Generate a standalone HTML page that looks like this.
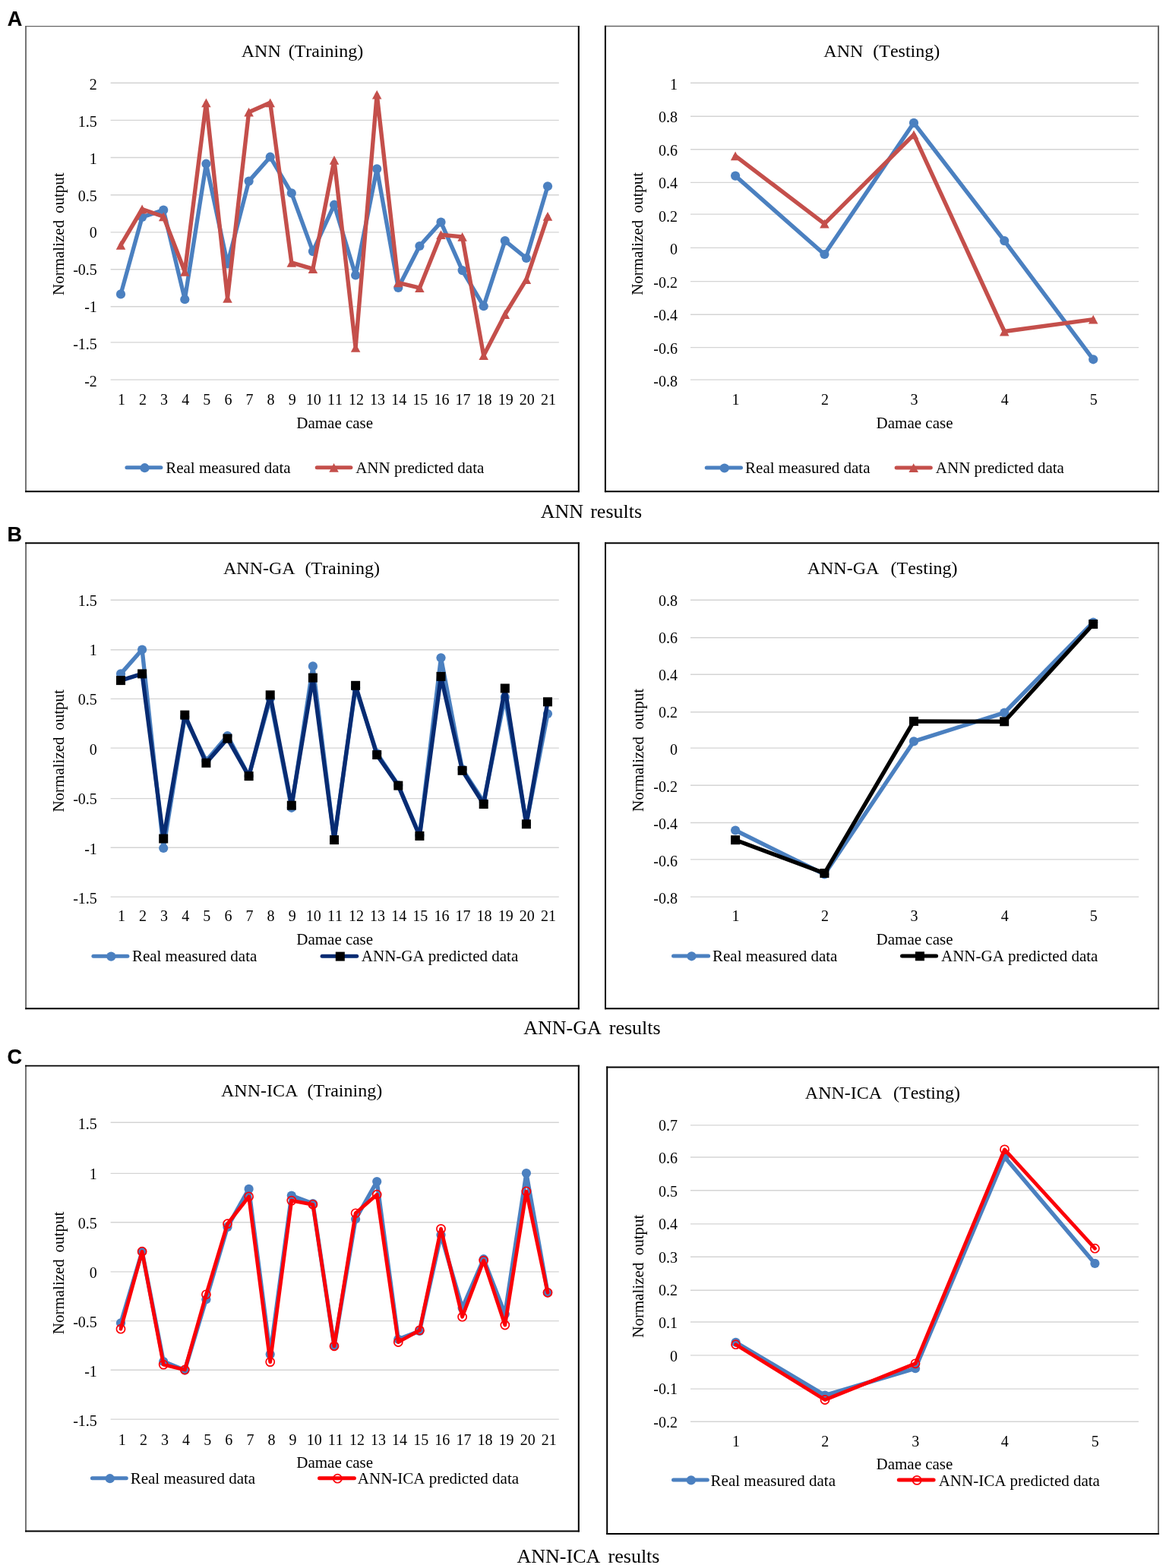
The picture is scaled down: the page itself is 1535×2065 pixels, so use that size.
<!DOCTYPE html>
<html lang="en">
<head>
<meta charset="utf-8">
<title>ANN, ANN-GA and ANN-ICA results</title>
<style>
html,body{margin:0;padding:0;background:#fff}
body{width:1535px;height:2065px;overflow:hidden}
svg{display:block}
text{font-kerning:none}
</style>
</head>
<body>
<svg width="1535" height="2065" viewBox="0 0 1535 2065" font-family='"Liberation Serif", serif'>
<rect width="1535" height="2065" fill="#fff"/>
<line x1="33.10" y1="34.60" x2="762.80" y2="34.60" stroke="#666" stroke-width="1.3"/>
<line x1="34.00" y1="33.95" x2="34.00" y2="648.20" stroke="#666" stroke-width="1.8"/>
<line x1="761.80" y1="33.95" x2="761.80" y2="648.20" stroke="#000" stroke-width="2.0"/>
<line x1="33.10" y1="647.20" x2="762.80" y2="647.20" stroke="#000" stroke-width="2.0"/>
<text x="398.00" y="74.60" font-size="24" text-anchor="middle" font-weight="normal" fill="#000" word-spacing="3.92">ANN (Training)</text>
<line x1="145.6" y1="109.20" x2="735.8" y2="109.20" stroke="#d4d4d4" stroke-width="1.4"/>
<line x1="145.6" y1="158.40" x2="735.8" y2="158.40" stroke="#d4d4d4" stroke-width="1.4"/>
<line x1="145.6" y1="207.50" x2="735.8" y2="207.50" stroke="#d4d4d4" stroke-width="1.4"/>
<line x1="145.6" y1="256.70" x2="735.8" y2="256.70" stroke="#d4d4d4" stroke-width="1.4"/>
<line x1="145.6" y1="305.90" x2="735.8" y2="305.90" stroke="#d4d4d4" stroke-width="1.4"/>
<line x1="145.6" y1="354.70" x2="735.8" y2="354.70" stroke="#d4d4d4" stroke-width="1.4"/>
<line x1="145.6" y1="403.70" x2="735.8" y2="403.70" stroke="#d4d4d4" stroke-width="1.4"/>
<line x1="145.6" y1="450.90" x2="735.8" y2="450.90" stroke="#d4d4d4" stroke-width="1.4"/>
<line x1="145.6" y1="500.10" x2="735.8" y2="500.10" stroke="#d4d4d4" stroke-width="1.4"/>
<text x="127.80" y="118.00" font-size="20" text-anchor="end" font-weight="normal" fill="#000" >2</text>
<text x="127.80" y="166.86" font-size="20" text-anchor="end" font-weight="normal" fill="#000" >1.5</text>
<text x="127.80" y="215.72" font-size="20" text-anchor="end" font-weight="normal" fill="#000" >1</text>
<text x="127.80" y="264.58" font-size="20" text-anchor="end" font-weight="normal" fill="#000" >0.5</text>
<text x="127.80" y="313.44" font-size="20" text-anchor="end" font-weight="normal" fill="#000" >0</text>
<text x="127.80" y="362.30" font-size="20" text-anchor="end" font-weight="normal" fill="#000" >-0.5</text>
<text x="127.80" y="411.16" font-size="20" text-anchor="end" font-weight="normal" fill="#000" >-1</text>
<text x="127.80" y="460.02" font-size="20" text-anchor="end" font-weight="normal" fill="#000" >-1.5</text>
<text x="127.80" y="508.88" font-size="20" text-anchor="end" font-weight="normal" fill="#000" >-2</text>
<text x="159.90" y="533.40" font-size="20" text-anchor="middle" font-weight="normal" fill="#000" >1</text>
<text x="188.00" y="533.40" font-size="20" text-anchor="middle" font-weight="normal" fill="#000" >2</text>
<text x="216.10" y="533.40" font-size="20" text-anchor="middle" font-weight="normal" fill="#000" >3</text>
<text x="244.20" y="533.40" font-size="20" text-anchor="middle" font-weight="normal" fill="#000" >4</text>
<text x="272.30" y="533.40" font-size="20" text-anchor="middle" font-weight="normal" fill="#000" >5</text>
<text x="300.40" y="533.40" font-size="20" text-anchor="middle" font-weight="normal" fill="#000" >6</text>
<text x="328.50" y="533.40" font-size="20" text-anchor="middle" font-weight="normal" fill="#000" >7</text>
<text x="356.60" y="533.40" font-size="20" text-anchor="middle" font-weight="normal" fill="#000" >8</text>
<text x="384.70" y="533.40" font-size="20" text-anchor="middle" font-weight="normal" fill="#000" >9</text>
<text x="412.80" y="533.40" font-size="20" text-anchor="middle" font-weight="normal" fill="#000" >10</text>
<text x="440.90" y="533.40" font-size="20" text-anchor="middle" font-weight="normal" fill="#000" >11</text>
<text x="469.00" y="533.40" font-size="20" text-anchor="middle" font-weight="normal" fill="#000" >12</text>
<text x="497.10" y="533.40" font-size="20" text-anchor="middle" font-weight="normal" fill="#000" >13</text>
<text x="525.20" y="533.40" font-size="20" text-anchor="middle" font-weight="normal" fill="#000" >14</text>
<text x="553.30" y="533.40" font-size="20" text-anchor="middle" font-weight="normal" fill="#000" >15</text>
<text x="581.40" y="533.40" font-size="20" text-anchor="middle" font-weight="normal" fill="#000" >16</text>
<text x="609.50" y="533.40" font-size="20" text-anchor="middle" font-weight="normal" fill="#000" >17</text>
<text x="637.60" y="533.40" font-size="20" text-anchor="middle" font-weight="normal" fill="#000" >18</text>
<text x="665.70" y="533.40" font-size="20" text-anchor="middle" font-weight="normal" fill="#000" >19</text>
<text x="693.80" y="533.40" font-size="20" text-anchor="middle" font-weight="normal" fill="#000" >20</text>
<text x="721.90" y="533.40" font-size="20" text-anchor="middle" font-weight="normal" fill="#000" >21</text>
<text x="440.70" y="563.60" font-size="21" text-anchor="middle" font-weight="normal" fill="#000" >Damae case</text>
<text transform="translate(83.60 308.20) rotate(-90)" font-size="21" text-anchor="middle" word-spacing="3.46">Normalized output</text>
<polyline points="159.00,387.40 187.10,286.00 215.20,276.60 243.30,394.20 271.40,215.70 299.50,347.50 327.60,238.60 355.70,206.70 383.80,254.30 411.90,331.10 440.00,269.70 468.10,362.50 496.20,222.40 524.30,379.00 552.40,324.00 580.50,292.60 608.60,356.10 636.70,403.20 664.80,317.10 692.90,340.00 721.00,245.30" fill="none" stroke="#4b80c0" stroke-width="5.4" stroke-linejoin="round" stroke-linecap="round"/>
<circle cx="159.00" cy="387.40" r="6.10" fill="#4b80c0"/>
<circle cx="187.10" cy="286.00" r="6.10" fill="#4b80c0"/>
<circle cx="215.20" cy="276.60" r="6.10" fill="#4b80c0"/>
<circle cx="243.30" cy="394.20" r="6.10" fill="#4b80c0"/>
<circle cx="271.40" cy="215.70" r="6.10" fill="#4b80c0"/>
<circle cx="299.50" cy="347.50" r="6.10" fill="#4b80c0"/>
<circle cx="327.60" cy="238.60" r="6.10" fill="#4b80c0"/>
<circle cx="355.70" cy="206.70" r="6.10" fill="#4b80c0"/>
<circle cx="383.80" cy="254.30" r="6.10" fill="#4b80c0"/>
<circle cx="411.90" cy="331.10" r="6.10" fill="#4b80c0"/>
<circle cx="440.00" cy="269.70" r="6.10" fill="#4b80c0"/>
<circle cx="468.10" cy="362.50" r="6.10" fill="#4b80c0"/>
<circle cx="496.20" cy="222.40" r="6.10" fill="#4b80c0"/>
<circle cx="524.30" cy="379.00" r="6.10" fill="#4b80c0"/>
<circle cx="552.40" cy="324.00" r="6.10" fill="#4b80c0"/>
<circle cx="580.50" cy="292.60" r="6.10" fill="#4b80c0"/>
<circle cx="608.60" cy="356.10" r="6.10" fill="#4b80c0"/>
<circle cx="636.70" cy="403.20" r="6.10" fill="#4b80c0"/>
<circle cx="664.80" cy="317.10" r="6.10" fill="#4b80c0"/>
<circle cx="692.90" cy="340.00" r="6.10" fill="#4b80c0"/>
<circle cx="721.00" cy="245.30" r="6.10" fill="#4b80c0"/>
<polyline points="159.00,322.90 187.10,275.50 215.20,285.30 243.30,357.80 271.40,135.40 299.50,392.80 327.60,147.70 355.70,135.30 383.80,345.90 411.90,354.20 440.00,210.90 468.10,457.80 496.20,124.60 524.30,372.30 552.40,379.20 580.50,309.20 608.60,311.90 636.70,468.20 664.80,414.00 692.90,368.20 721.00,284.90" fill="none" stroke="#c44f4b" stroke-width="5.4" stroke-linejoin="round" stroke-linecap="round"/>
<path d="M159.00 317.00L165.25 328.80L152.75 328.80Z" fill="#c44f4b"/>
<path d="M187.10 269.60L193.35 281.40L180.85 281.40Z" fill="#c44f4b"/>
<path d="M215.20 279.40L221.45 291.20L208.95 291.20Z" fill="#c44f4b"/>
<path d="M243.30 351.90L249.55 363.70L237.05 363.70Z" fill="#c44f4b"/>
<path d="M271.40 129.50L277.65 141.30L265.15 141.30Z" fill="#c44f4b"/>
<path d="M299.50 386.90L305.75 398.70L293.25 398.70Z" fill="#c44f4b"/>
<path d="M327.60 141.80L333.85 153.60L321.35 153.60Z" fill="#c44f4b"/>
<path d="M355.70 129.40L361.95 141.20L349.45 141.20Z" fill="#c44f4b"/>
<path d="M383.80 340.00L390.05 351.80L377.55 351.80Z" fill="#c44f4b"/>
<path d="M411.90 348.30L418.15 360.10L405.65 360.10Z" fill="#c44f4b"/>
<path d="M440.00 205.00L446.25 216.80L433.75 216.80Z" fill="#c44f4b"/>
<path d="M468.10 451.90L474.35 463.70L461.85 463.70Z" fill="#c44f4b"/>
<path d="M496.20 118.70L502.45 130.50L489.95 130.50Z" fill="#c44f4b"/>
<path d="M524.30 366.40L530.55 378.20L518.05 378.20Z" fill="#c44f4b"/>
<path d="M552.40 373.30L558.65 385.10L546.15 385.10Z" fill="#c44f4b"/>
<path d="M580.50 303.30L586.75 315.10L574.25 315.10Z" fill="#c44f4b"/>
<path d="M608.60 306.00L614.85 317.80L602.35 317.80Z" fill="#c44f4b"/>
<path d="M636.70 462.30L642.95 474.10L630.45 474.10Z" fill="#c44f4b"/>
<path d="M664.80 408.10L671.05 419.90L658.55 419.90Z" fill="#c44f4b"/>
<path d="M692.90 362.30L699.15 374.10L686.65 374.10Z" fill="#c44f4b"/>
<path d="M721.00 279.00L727.25 290.80L714.75 290.80Z" fill="#c44f4b"/>
<line x1="166.90" y1="615.8" x2="211.90" y2="615.8" stroke="#4b80c0" stroke-width="5.0" stroke-linecap="round"/>
<circle cx="190.50" cy="616.20" r="6.10" fill="#4b80c0"/>
<text x="218.20" y="622.80" font-size="21" text-anchor="start" font-weight="normal" fill="#000" >Real measured data</text>
<line x1="417.20" y1="615.8" x2="461.90" y2="615.8" stroke="#c44f4b" stroke-width="5.0" stroke-linecap="round"/>
<path d="M439.55 609.90L445.80 621.70L433.30 621.70Z" fill="#c44f4b"/>
<text x="468.20" y="622.80" font-size="21" text-anchor="start" font-weight="normal" fill="#000" >ANN predicted data</text>
<line x1="795.90" y1="34.50" x2="1526.00" y2="34.50" stroke="#666" stroke-width="1.3"/>
<line x1="1525.00" y1="33.85" x2="1525.00" y2="648.30" stroke="#666" stroke-width="2.0"/>
<line x1="796.90" y1="33.85" x2="796.90" y2="648.30" stroke="#000" stroke-width="2.0"/>
<line x1="795.90" y1="647.30" x2="1526.00" y2="647.30" stroke="#000" stroke-width="2.0"/>
<text x="1160.80" y="74.60" font-size="24" text-anchor="middle" font-weight="normal" fill="#000" word-spacing="6.91">ANN (Testing)</text>
<line x1="909.0" y1="109.20" x2="1499.1" y2="109.20" stroke="#d4d4d4" stroke-width="1.4"/>
<line x1="909.0" y1="153.20" x2="1499.1" y2="153.20" stroke="#d4d4d4" stroke-width="1.4"/>
<line x1="909.0" y1="196.70" x2="1499.1" y2="196.70" stroke="#d4d4d4" stroke-width="1.4"/>
<line x1="909.0" y1="240.40" x2="1499.1" y2="240.40" stroke="#d4d4d4" stroke-width="1.4"/>
<line x1="909.0" y1="282.10" x2="1499.1" y2="282.10" stroke="#d4d4d4" stroke-width="1.4"/>
<line x1="909.0" y1="326.40" x2="1499.1" y2="326.40" stroke="#d4d4d4" stroke-width="1.4"/>
<line x1="909.0" y1="370.60" x2="1499.1" y2="370.60" stroke="#d4d4d4" stroke-width="1.4"/>
<line x1="909.0" y1="414.30" x2="1499.1" y2="414.30" stroke="#d4d4d4" stroke-width="1.4"/>
<line x1="909.0" y1="457.60" x2="1499.1" y2="457.60" stroke="#d4d4d4" stroke-width="1.4"/>
<line x1="909.0" y1="500.10" x2="1499.1" y2="500.10" stroke="#d4d4d4" stroke-width="1.4"/>
<text x="892.00" y="118.00" font-size="20" text-anchor="end" font-weight="normal" fill="#000" >1</text>
<text x="892.00" y="161.48" font-size="20" text-anchor="end" font-weight="normal" fill="#000" >0.8</text>
<text x="892.00" y="204.96" font-size="20" text-anchor="end" font-weight="normal" fill="#000" >0.6</text>
<text x="892.00" y="248.44" font-size="20" text-anchor="end" font-weight="normal" fill="#000" >0.4</text>
<text x="892.00" y="291.92" font-size="20" text-anchor="end" font-weight="normal" fill="#000" >0.2</text>
<text x="892.00" y="335.40" font-size="20" text-anchor="end" font-weight="normal" fill="#000" >0</text>
<text x="892.00" y="378.88" font-size="20" text-anchor="end" font-weight="normal" fill="#000" >-0.2</text>
<text x="892.00" y="422.36" font-size="20" text-anchor="end" font-weight="normal" fill="#000" >-0.4</text>
<text x="892.00" y="465.84" font-size="20" text-anchor="end" font-weight="normal" fill="#000" >-0.6</text>
<text x="892.00" y="509.32" font-size="20" text-anchor="end" font-weight="normal" fill="#000" >-0.8</text>
<text x="968.60" y="533.40" font-size="20" text-anchor="middle" font-weight="normal" fill="#000" >1</text>
<text x="1085.90" y="533.40" font-size="20" text-anchor="middle" font-weight="normal" fill="#000" >2</text>
<text x="1203.50" y="533.40" font-size="20" text-anchor="middle" font-weight="normal" fill="#000" >3</text>
<text x="1322.70" y="533.40" font-size="20" text-anchor="middle" font-weight="normal" fill="#000" >4</text>
<text x="1439.70" y="533.40" font-size="20" text-anchor="middle" font-weight="normal" fill="#000" >5</text>
<text x="1204.05" y="563.60" font-size="21" text-anchor="middle" font-weight="normal" fill="#000" >Damae case</text>
<text transform="translate(846.30 307.80) rotate(-90)" font-size="21" text-anchor="middle" word-spacing="3.96">Normalized output</text>
<polyline points="968.10,231.60 1085.40,335.00 1203.00,161.80 1322.20,317.10 1439.20,473.30" fill="none" stroke="#4b80c0" stroke-width="5.4" stroke-linejoin="round" stroke-linecap="round"/>
<circle cx="968.10" cy="231.60" r="6.10" fill="#4b80c0"/>
<circle cx="1085.40" cy="335.00" r="6.10" fill="#4b80c0"/>
<circle cx="1203.00" cy="161.80" r="6.10" fill="#4b80c0"/>
<circle cx="1322.20" cy="317.10" r="6.10" fill="#4b80c0"/>
<circle cx="1439.20" cy="473.30" r="6.10" fill="#4b80c0"/>
<polyline points="968.10,205.30 1085.40,294.60 1203.00,177.30 1322.20,436.50 1439.20,420.60" fill="none" stroke="#c44f4b" stroke-width="5.4" stroke-linejoin="round" stroke-linecap="round"/>
<path d="M968.10 199.40L974.35 211.20L961.85 211.20Z" fill="#c44f4b"/>
<path d="M1085.40 288.70L1091.65 300.50L1079.15 300.50Z" fill="#c44f4b"/>
<path d="M1203.00 171.40L1209.25 183.20L1196.75 183.20Z" fill="#c44f4b"/>
<path d="M1322.20 430.60L1328.45 442.40L1315.95 442.40Z" fill="#c44f4b"/>
<path d="M1439.20 414.70L1445.45 426.50L1432.95 426.50Z" fill="#c44f4b"/>
<line x1="930.20" y1="616.1" x2="975.50" y2="616.1" stroke="#4b80c0" stroke-width="5.0" stroke-linecap="round"/>
<circle cx="953.75" cy="616.50" r="6.10" fill="#4b80c0"/>
<text x="981.10" y="623.10" font-size="21" text-anchor="start" font-weight="normal" fill="#000" >Real measured data</text>
<line x1="1180.10" y1="616.1" x2="1225.30" y2="616.1" stroke="#c44f4b" stroke-width="5.0" stroke-linecap="round"/>
<path d="M1202.70 610.20L1208.95 622.00L1196.45 622.00Z" fill="#c44f4b"/>
<text x="1231.80" y="623.10" font-size="21" text-anchor="start" font-weight="normal" fill="#000" >ANN predicted data</text>
<line x1="34.10" y1="714.30" x2="34.10" y2="1329.20" stroke="#666" stroke-width="1.8"/>
<line x1="33.20" y1="715.30" x2="762.80" y2="715.30" stroke="#000" stroke-width="2.0"/>
<line x1="761.80" y1="714.30" x2="761.80" y2="1329.20" stroke="#000" stroke-width="2.0"/>
<line x1="33.20" y1="1328.20" x2="762.80" y2="1328.20" stroke="#000" stroke-width="2.0"/>
<text x="397.00" y="756.20" font-size="24" text-anchor="middle" font-weight="normal" fill="#000" word-spacing="6.78">ANN-GA (Training)</text>
<line x1="145.6" y1="790.25" x2="735.8" y2="790.25" stroke="#d4d4d4" stroke-width="1.4"/>
<line x1="145.6" y1="855.70" x2="735.8" y2="855.70" stroke="#d4d4d4" stroke-width="1.4"/>
<line x1="145.6" y1="920.40" x2="735.8" y2="920.40" stroke="#d4d4d4" stroke-width="1.4"/>
<line x1="145.6" y1="985.10" x2="735.8" y2="985.10" stroke="#d4d4d4" stroke-width="1.4"/>
<line x1="145.6" y1="1051.60" x2="735.8" y2="1051.60" stroke="#d4d4d4" stroke-width="1.4"/>
<line x1="145.6" y1="1116.30" x2="735.8" y2="1116.30" stroke="#d4d4d4" stroke-width="1.4"/>
<line x1="145.6" y1="1181.10" x2="735.8" y2="1181.10" stroke="#d4d4d4" stroke-width="1.4"/>
<text x="127.80" y="797.60" font-size="20" text-anchor="end" font-weight="normal" fill="#000" >1.5</text>
<text x="127.80" y="863.00" font-size="20" text-anchor="end" font-weight="normal" fill="#000" >1</text>
<text x="127.80" y="928.40" font-size="20" text-anchor="end" font-weight="normal" fill="#000" >0.5</text>
<text x="127.80" y="993.80" font-size="20" text-anchor="end" font-weight="normal" fill="#000" >0</text>
<text x="127.80" y="1059.20" font-size="20" text-anchor="end" font-weight="normal" fill="#000" >-0.5</text>
<text x="127.80" y="1124.60" font-size="20" text-anchor="end" font-weight="normal" fill="#000" >-1</text>
<text x="127.80" y="1190.00" font-size="20" text-anchor="end" font-weight="normal" fill="#000" >-1.5</text>
<text x="159.90" y="1213.00" font-size="20" text-anchor="middle" font-weight="normal" fill="#000" >1</text>
<text x="188.00" y="1213.00" font-size="20" text-anchor="middle" font-weight="normal" fill="#000" >2</text>
<text x="216.10" y="1213.00" font-size="20" text-anchor="middle" font-weight="normal" fill="#000" >3</text>
<text x="244.20" y="1213.00" font-size="20" text-anchor="middle" font-weight="normal" fill="#000" >4</text>
<text x="272.30" y="1213.00" font-size="20" text-anchor="middle" font-weight="normal" fill="#000" >5</text>
<text x="300.40" y="1213.00" font-size="20" text-anchor="middle" font-weight="normal" fill="#000" >6</text>
<text x="328.50" y="1213.00" font-size="20" text-anchor="middle" font-weight="normal" fill="#000" >7</text>
<text x="356.60" y="1213.00" font-size="20" text-anchor="middle" font-weight="normal" fill="#000" >8</text>
<text x="384.70" y="1213.00" font-size="20" text-anchor="middle" font-weight="normal" fill="#000" >9</text>
<text x="412.80" y="1213.00" font-size="20" text-anchor="middle" font-weight="normal" fill="#000" >10</text>
<text x="440.90" y="1213.00" font-size="20" text-anchor="middle" font-weight="normal" fill="#000" >11</text>
<text x="469.00" y="1213.00" font-size="20" text-anchor="middle" font-weight="normal" fill="#000" >12</text>
<text x="497.10" y="1213.00" font-size="20" text-anchor="middle" font-weight="normal" fill="#000" >13</text>
<text x="525.20" y="1213.00" font-size="20" text-anchor="middle" font-weight="normal" fill="#000" >14</text>
<text x="553.30" y="1213.00" font-size="20" text-anchor="middle" font-weight="normal" fill="#000" >15</text>
<text x="581.40" y="1213.00" font-size="20" text-anchor="middle" font-weight="normal" fill="#000" >16</text>
<text x="609.50" y="1213.00" font-size="20" text-anchor="middle" font-weight="normal" fill="#000" >17</text>
<text x="637.60" y="1213.00" font-size="20" text-anchor="middle" font-weight="normal" fill="#000" >18</text>
<text x="665.70" y="1213.00" font-size="20" text-anchor="middle" font-weight="normal" fill="#000" >19</text>
<text x="693.80" y="1213.00" font-size="20" text-anchor="middle" font-weight="normal" fill="#000" >20</text>
<text x="721.90" y="1213.00" font-size="20" text-anchor="middle" font-weight="normal" fill="#000" >21</text>
<text x="440.70" y="1243.50" font-size="21" text-anchor="middle" font-weight="normal" fill="#000" >Damae case</text>
<text transform="translate(83.50 988.80) rotate(-90)" font-size="21" text-anchor="middle" word-spacing="3.46">Normalized output</text>
<polyline points="159.00,887.40 187.10,855.50 215.20,1117.00 243.30,944.00 271.40,1002.00 299.50,969.00 327.60,1022.00 355.70,920.00 383.80,1063.80 411.90,877.40 440.00,1106.00 468.10,905.50 496.20,992.00 524.30,1034.00 552.40,1100.00 580.50,866.30 608.60,1013.00 636.70,1056.00 664.80,918.00 692.90,1085.00 721.00,940.00" fill="none" stroke="#4b80c0" stroke-width="5.4" stroke-linejoin="round" stroke-linecap="round"/>
<circle cx="159.00" cy="887.40" r="6.10" fill="#4b80c0"/>
<circle cx="187.10" cy="855.50" r="6.10" fill="#4b80c0"/>
<circle cx="215.20" cy="1117.00" r="6.10" fill="#4b80c0"/>
<circle cx="243.30" cy="944.00" r="6.10" fill="#4b80c0"/>
<circle cx="271.40" cy="1002.00" r="6.10" fill="#4b80c0"/>
<circle cx="299.50" cy="969.00" r="6.10" fill="#4b80c0"/>
<circle cx="327.60" cy="1022.00" r="6.10" fill="#4b80c0"/>
<circle cx="355.70" cy="920.00" r="6.10" fill="#4b80c0"/>
<circle cx="383.80" cy="1063.80" r="6.10" fill="#4b80c0"/>
<circle cx="411.90" cy="877.40" r="6.10" fill="#4b80c0"/>
<circle cx="440.00" cy="1106.00" r="6.10" fill="#4b80c0"/>
<circle cx="468.10" cy="905.50" r="6.10" fill="#4b80c0"/>
<circle cx="496.20" cy="992.00" r="6.10" fill="#4b80c0"/>
<circle cx="524.30" cy="1034.00" r="6.10" fill="#4b80c0"/>
<circle cx="552.40" cy="1100.00" r="6.10" fill="#4b80c0"/>
<circle cx="580.50" cy="866.30" r="6.10" fill="#4b80c0"/>
<circle cx="608.60" cy="1013.00" r="6.10" fill="#4b80c0"/>
<circle cx="636.70" cy="1056.00" r="6.10" fill="#4b80c0"/>
<circle cx="664.80" cy="918.00" r="6.10" fill="#4b80c0"/>
<circle cx="692.90" cy="1085.00" r="6.10" fill="#4b80c0"/>
<circle cx="721.00" cy="940.00" r="6.10" fill="#4b80c0"/>
<polyline points="159.00,896.10 187.10,887.40 215.20,1104.50 243.30,941.60 271.40,1004.80 299.50,972.60 327.60,1022.10 355.70,915.30 383.80,1060.70 411.90,892.60 440.00,1106.10 468.10,902.80 496.20,994.10 524.30,1034.60 552.40,1100.90 580.50,890.90 608.60,1014.80 636.70,1059.00 664.80,906.50 692.90,1085.30 721.00,924.30" fill="none" stroke="#072b72" stroke-width="5.4" stroke-linejoin="round" stroke-linecap="round"/>
<rect x="153.00" y="890.10" width="12.00" height="12.00" fill="#000"/>
<rect x="181.10" y="881.40" width="12.00" height="12.00" fill="#000"/>
<rect x="209.20" y="1098.50" width="12.00" height="12.00" fill="#000"/>
<rect x="237.30" y="935.60" width="12.00" height="12.00" fill="#000"/>
<rect x="265.40" y="998.80" width="12.00" height="12.00" fill="#000"/>
<rect x="293.50" y="966.60" width="12.00" height="12.00" fill="#000"/>
<rect x="321.60" y="1016.10" width="12.00" height="12.00" fill="#000"/>
<rect x="349.70" y="909.30" width="12.00" height="12.00" fill="#000"/>
<rect x="377.80" y="1054.70" width="12.00" height="12.00" fill="#000"/>
<rect x="405.90" y="886.60" width="12.00" height="12.00" fill="#000"/>
<rect x="434.00" y="1100.10" width="12.00" height="12.00" fill="#000"/>
<rect x="462.10" y="896.80" width="12.00" height="12.00" fill="#000"/>
<rect x="490.20" y="988.10" width="12.00" height="12.00" fill="#000"/>
<rect x="518.30" y="1028.60" width="12.00" height="12.00" fill="#000"/>
<rect x="546.40" y="1094.90" width="12.00" height="12.00" fill="#000"/>
<rect x="574.50" y="884.90" width="12.00" height="12.00" fill="#000"/>
<rect x="602.60" y="1008.80" width="12.00" height="12.00" fill="#000"/>
<rect x="630.70" y="1053.00" width="12.00" height="12.00" fill="#000"/>
<rect x="658.80" y="900.50" width="12.00" height="12.00" fill="#000"/>
<rect x="686.90" y="1079.30" width="12.00" height="12.00" fill="#000"/>
<rect x="715.00" y="918.30" width="12.00" height="12.00" fill="#000"/>
<line x1="122.90" y1="1259.2" x2="167.90" y2="1259.2" stroke="#4b80c0" stroke-width="5.0" stroke-linecap="round"/>
<circle cx="146.30" cy="1259.60" r="6.10" fill="#4b80c0"/>
<text x="173.90" y="1266.20" font-size="21" text-anchor="start" font-weight="normal" fill="#000" >Real measured data</text>
<line x1="424.10" y1="1259.2" x2="469.70" y2="1259.2" stroke="#072b72" stroke-width="5.0" stroke-linecap="round"/>
<rect x="441.80" y="1253.60" width="12.00" height="12.00" fill="#000"/>
<text x="475.80" y="1266.20" font-size="21" text-anchor="start" font-weight="normal" fill="#000" >ANN-GA predicted data</text>
<line x1="1525.00" y1="714.30" x2="1525.00" y2="1329.30" stroke="#666" stroke-width="2.0"/>
<line x1="796.00" y1="715.30" x2="1526.00" y2="715.30" stroke="#000" stroke-width="2.0"/>
<line x1="797.00" y1="714.30" x2="797.00" y2="1329.30" stroke="#000" stroke-width="2.0"/>
<line x1="796.00" y1="1328.30" x2="1526.00" y2="1328.30" stroke="#000" stroke-width="2.0"/>
<text x="1161.60" y="756.20" font-size="24" text-anchor="middle" font-weight="normal" fill="#000" word-spacing="9.27">ANN-GA (Testing)</text>
<line x1="909.0" y1="790.25" x2="1499.1" y2="790.25" stroke="#d4d4d4" stroke-width="1.4"/>
<line x1="909.0" y1="839.70" x2="1499.1" y2="839.70" stroke="#d4d4d4" stroke-width="1.4"/>
<line x1="909.0" y1="888.30" x2="1499.1" y2="888.30" stroke="#d4d4d4" stroke-width="1.4"/>
<line x1="909.0" y1="937.70" x2="1499.1" y2="937.70" stroke="#d4d4d4" stroke-width="1.4"/>
<line x1="909.0" y1="985.10" x2="1499.1" y2="985.10" stroke="#d4d4d4" stroke-width="1.4"/>
<line x1="909.0" y1="1034.30" x2="1499.1" y2="1034.30" stroke="#d4d4d4" stroke-width="1.4"/>
<line x1="909.0" y1="1083.50" x2="1499.1" y2="1083.50" stroke="#d4d4d4" stroke-width="1.4"/>
<line x1="909.0" y1="1131.90" x2="1499.1" y2="1131.90" stroke="#d4d4d4" stroke-width="1.4"/>
<line x1="909.0" y1="1181.10" x2="1499.1" y2="1181.10" stroke="#d4d4d4" stroke-width="1.4"/>
<text x="892.00" y="797.60" font-size="20" text-anchor="end" font-weight="normal" fill="#000" >0.8</text>
<text x="892.00" y="846.64" font-size="20" text-anchor="end" font-weight="normal" fill="#000" >0.6</text>
<text x="892.00" y="895.68" font-size="20" text-anchor="end" font-weight="normal" fill="#000" >0.4</text>
<text x="892.00" y="944.72" font-size="20" text-anchor="end" font-weight="normal" fill="#000" >0.2</text>
<text x="892.00" y="993.76" font-size="20" text-anchor="end" font-weight="normal" fill="#000" >0</text>
<text x="892.00" y="1042.80" font-size="20" text-anchor="end" font-weight="normal" fill="#000" >-0.2</text>
<text x="892.00" y="1091.84" font-size="20" text-anchor="end" font-weight="normal" fill="#000" >-0.4</text>
<text x="892.00" y="1140.88" font-size="20" text-anchor="end" font-weight="normal" fill="#000" >-0.6</text>
<text x="892.00" y="1189.92" font-size="20" text-anchor="end" font-weight="normal" fill="#000" >-0.8</text>
<text x="968.60" y="1213.00" font-size="20" text-anchor="middle" font-weight="normal" fill="#000" >1</text>
<text x="1085.90" y="1213.00" font-size="20" text-anchor="middle" font-weight="normal" fill="#000" >2</text>
<text x="1203.50" y="1213.00" font-size="20" text-anchor="middle" font-weight="normal" fill="#000" >3</text>
<text x="1322.70" y="1213.00" font-size="20" text-anchor="middle" font-weight="normal" fill="#000" >4</text>
<text x="1439.70" y="1213.00" font-size="20" text-anchor="middle" font-weight="normal" fill="#000" >5</text>
<text x="1204.05" y="1243.50" font-size="21" text-anchor="middle" font-weight="normal" fill="#000" >Damae case</text>
<text transform="translate(846.60 988.00) rotate(-90)" font-size="21" text-anchor="middle" word-spacing="3.96">Normalized output</text>
<polyline points="968.10,1093.50 1085.40,1151.50 1203.00,976.40 1322.20,938.60 1439.20,819.50" fill="none" stroke="#4b80c0" stroke-width="5.4" stroke-linejoin="round" stroke-linecap="round"/>
<circle cx="968.10" cy="1093.50" r="6.10" fill="#4b80c0"/>
<circle cx="1085.40" cy="1151.50" r="6.10" fill="#4b80c0"/>
<circle cx="1203.00" cy="976.40" r="6.10" fill="#4b80c0"/>
<circle cx="1322.20" cy="938.60" r="6.10" fill="#4b80c0"/>
<circle cx="1439.20" cy="819.50" r="6.10" fill="#4b80c0"/>
<polyline points="968.10,1106.20 1085.40,1150.00 1203.00,949.90 1322.20,950.30 1439.20,822.00" fill="none" stroke="#000" stroke-width="5.4" stroke-linejoin="round" stroke-linecap="round"/>
<rect x="962.10" y="1100.20" width="12.00" height="12.00" fill="#000"/>
<rect x="1079.40" y="1144.00" width="12.00" height="12.00" fill="#000"/>
<rect x="1197.00" y="943.90" width="12.00" height="12.00" fill="#000"/>
<rect x="1316.20" y="944.30" width="12.00" height="12.00" fill="#000"/>
<rect x="1433.20" y="816.00" width="12.00" height="12.00" fill="#000"/>
<line x1="886.50" y1="1258.9" x2="932.60" y2="1258.9" stroke="#4b80c0" stroke-width="5.0" stroke-linecap="round"/>
<circle cx="910.45" cy="1259.30" r="6.10" fill="#4b80c0"/>
<text x="938.00" y="1265.90" font-size="21" text-anchor="start" font-weight="normal" fill="#000" >Real measured data</text>
<line x1="1187.50" y1="1258.9" x2="1232.60" y2="1258.9" stroke="#000" stroke-width="5.0" stroke-linecap="round"/>
<rect x="1204.95" y="1253.30" width="12.00" height="12.00" fill="#000"/>
<text x="1239.00" y="1265.90" font-size="21" text-anchor="start" font-weight="normal" fill="#000" >ANN-GA predicted data</text>
<line x1="34.00" y1="1402.70" x2="34.00" y2="2017.50" stroke="#666" stroke-width="1.8"/>
<line x1="33.10" y1="1403.60" x2="762.80" y2="1403.60" stroke="#000" stroke-width="1.8"/>
<line x1="761.80" y1="1402.70" x2="761.80" y2="2017.50" stroke="#000" stroke-width="2.0"/>
<line x1="33.10" y1="2016.50" x2="762.80" y2="2016.50" stroke="#000" stroke-width="2.0"/>
<text x="397.10" y="1444.30" font-size="24" text-anchor="middle" font-weight="normal" fill="#000" word-spacing="6.22">ANN-ICA (Training)</text>
<line x1="145.6" y1="1478.25" x2="735.8" y2="1478.25" stroke="#d4d4d4" stroke-width="1.4"/>
<line x1="145.6" y1="1545.40" x2="735.8" y2="1545.40" stroke="#d4d4d4" stroke-width="1.4"/>
<line x1="145.6" y1="1609.80" x2="735.8" y2="1609.80" stroke="#d4d4d4" stroke-width="1.4"/>
<line x1="145.6" y1="1674.90" x2="735.8" y2="1674.90" stroke="#d4d4d4" stroke-width="1.4"/>
<line x1="145.6" y1="1739.60" x2="735.8" y2="1739.60" stroke="#d4d4d4" stroke-width="1.4"/>
<line x1="145.6" y1="1804.30" x2="735.8" y2="1804.30" stroke="#d4d4d4" stroke-width="1.4"/>
<line x1="145.6" y1="1869.10" x2="735.8" y2="1869.10" stroke="#d4d4d4" stroke-width="1.4"/>
<text x="127.80" y="1487.40" font-size="20" text-anchor="end" font-weight="normal" fill="#000" >1.5</text>
<text x="127.80" y="1552.50" font-size="20" text-anchor="end" font-weight="normal" fill="#000" >1</text>
<text x="127.80" y="1617.60" font-size="20" text-anchor="end" font-weight="normal" fill="#000" >0.5</text>
<text x="127.80" y="1682.70" font-size="20" text-anchor="end" font-weight="normal" fill="#000" >0</text>
<text x="127.80" y="1747.80" font-size="20" text-anchor="end" font-weight="normal" fill="#000" >-0.5</text>
<text x="127.80" y="1812.90" font-size="20" text-anchor="end" font-weight="normal" fill="#000" >-1</text>
<text x="127.80" y="1878.00" font-size="20" text-anchor="end" font-weight="normal" fill="#000" >-1.5</text>
<text x="160.80" y="1903.20" font-size="20" text-anchor="middle" font-weight="normal" fill="#000" >1</text>
<text x="188.90" y="1903.20" font-size="20" text-anchor="middle" font-weight="normal" fill="#000" >2</text>
<text x="217.00" y="1903.20" font-size="20" text-anchor="middle" font-weight="normal" fill="#000" >3</text>
<text x="245.10" y="1903.20" font-size="20" text-anchor="middle" font-weight="normal" fill="#000" >4</text>
<text x="273.20" y="1903.20" font-size="20" text-anchor="middle" font-weight="normal" fill="#000" >5</text>
<text x="301.30" y="1903.20" font-size="20" text-anchor="middle" font-weight="normal" fill="#000" >6</text>
<text x="329.40" y="1903.20" font-size="20" text-anchor="middle" font-weight="normal" fill="#000" >7</text>
<text x="357.50" y="1903.20" font-size="20" text-anchor="middle" font-weight="normal" fill="#000" >8</text>
<text x="385.60" y="1903.20" font-size="20" text-anchor="middle" font-weight="normal" fill="#000" >9</text>
<text x="413.70" y="1903.20" font-size="20" text-anchor="middle" font-weight="normal" fill="#000" >10</text>
<text x="441.80" y="1903.20" font-size="20" text-anchor="middle" font-weight="normal" fill="#000" >11</text>
<text x="469.90" y="1903.20" font-size="20" text-anchor="middle" font-weight="normal" fill="#000" >12</text>
<text x="498.00" y="1903.20" font-size="20" text-anchor="middle" font-weight="normal" fill="#000" >13</text>
<text x="526.10" y="1903.20" font-size="20" text-anchor="middle" font-weight="normal" fill="#000" >14</text>
<text x="554.20" y="1903.20" font-size="20" text-anchor="middle" font-weight="normal" fill="#000" >15</text>
<text x="582.30" y="1903.20" font-size="20" text-anchor="middle" font-weight="normal" fill="#000" >16</text>
<text x="610.40" y="1903.20" font-size="20" text-anchor="middle" font-weight="normal" fill="#000" >17</text>
<text x="638.50" y="1903.20" font-size="20" text-anchor="middle" font-weight="normal" fill="#000" >18</text>
<text x="666.60" y="1903.20" font-size="20" text-anchor="middle" font-weight="normal" fill="#000" >19</text>
<text x="694.70" y="1903.20" font-size="20" text-anchor="middle" font-weight="normal" fill="#000" >20</text>
<text x="722.80" y="1903.20" font-size="20" text-anchor="middle" font-weight="normal" fill="#000" >21</text>
<text x="440.70" y="1932.70" font-size="21" text-anchor="middle" font-weight="normal" fill="#000" >Damae case</text>
<text transform="translate(83.60 1676.50) rotate(-90)" font-size="21" text-anchor="middle" word-spacing="3.46">Normalized output</text>
<polyline points="159.00,1742.30 187.10,1648.20 215.20,1793.00 243.30,1804.40 271.40,1711.30 299.50,1615.90 327.60,1565.90 355.70,1783.60 383.80,1574.60 411.90,1585.10 440.00,1772.80 468.10,1605.50 496.20,1556.10 524.30,1763.80 552.40,1752.90 580.50,1626.30 608.60,1722.60 636.70,1658.20 664.80,1730.60 692.90,1545.00 721.00,1702.30" fill="none" stroke="#4b80c0" stroke-width="5.4" stroke-linejoin="round" stroke-linecap="round"/>
<circle cx="159.00" cy="1742.30" r="6.10" fill="#4b80c0"/>
<circle cx="187.10" cy="1648.20" r="6.10" fill="#4b80c0"/>
<circle cx="215.20" cy="1793.00" r="6.10" fill="#4b80c0"/>
<circle cx="243.30" cy="1804.40" r="6.10" fill="#4b80c0"/>
<circle cx="271.40" cy="1711.30" r="6.10" fill="#4b80c0"/>
<circle cx="299.50" cy="1615.90" r="6.10" fill="#4b80c0"/>
<circle cx="327.60" cy="1565.90" r="6.10" fill="#4b80c0"/>
<circle cx="355.70" cy="1783.60" r="6.10" fill="#4b80c0"/>
<circle cx="383.80" cy="1574.60" r="6.10" fill="#4b80c0"/>
<circle cx="411.90" cy="1585.10" r="6.10" fill="#4b80c0"/>
<circle cx="440.00" cy="1772.80" r="6.10" fill="#4b80c0"/>
<circle cx="468.10" cy="1605.50" r="6.10" fill="#4b80c0"/>
<circle cx="496.20" cy="1556.10" r="6.10" fill="#4b80c0"/>
<circle cx="524.30" cy="1763.80" r="6.10" fill="#4b80c0"/>
<circle cx="552.40" cy="1752.90" r="6.10" fill="#4b80c0"/>
<circle cx="580.50" cy="1626.30" r="6.10" fill="#4b80c0"/>
<circle cx="608.60" cy="1722.60" r="6.10" fill="#4b80c0"/>
<circle cx="636.70" cy="1658.20" r="6.10" fill="#4b80c0"/>
<circle cx="664.80" cy="1730.60" r="6.10" fill="#4b80c0"/>
<circle cx="692.90" cy="1545.00" r="6.10" fill="#4b80c0"/>
<circle cx="721.00" cy="1702.30" r="6.10" fill="#4b80c0"/>
<polyline points="159.00,1750.20 187.10,1648.20 215.20,1797.10 243.30,1804.00 271.40,1704.80 299.50,1611.70 327.60,1575.90 355.70,1793.60 383.80,1581.10 411.90,1586.30 440.00,1772.80 468.10,1597.80 496.20,1573.20 524.30,1767.50 552.40,1751.90 580.50,1618.40 608.60,1734.20 636.70,1660.10 664.80,1745.00 692.90,1569.00 721.00,1702.30" fill="none" stroke="#fb0007" stroke-width="4.8" stroke-linejoin="round" stroke-linecap="round"/>
<circle cx="159.00" cy="1750.20" r="5.55" fill="none" stroke="#fb0007" stroke-width="1.7"/>
<circle cx="187.10" cy="1648.20" r="5.55" fill="none" stroke="#fb0007" stroke-width="1.7"/>
<circle cx="215.20" cy="1797.10" r="5.55" fill="none" stroke="#fb0007" stroke-width="1.7"/>
<circle cx="243.30" cy="1804.00" r="5.55" fill="none" stroke="#fb0007" stroke-width="1.7"/>
<circle cx="271.40" cy="1704.80" r="5.55" fill="none" stroke="#fb0007" stroke-width="1.7"/>
<circle cx="299.50" cy="1611.70" r="5.55" fill="none" stroke="#fb0007" stroke-width="1.7"/>
<circle cx="327.60" cy="1575.90" r="5.55" fill="none" stroke="#fb0007" stroke-width="1.7"/>
<circle cx="355.70" cy="1793.60" r="5.55" fill="none" stroke="#fb0007" stroke-width="1.7"/>
<circle cx="383.80" cy="1581.10" r="5.55" fill="none" stroke="#fb0007" stroke-width="1.7"/>
<circle cx="411.90" cy="1586.30" r="5.55" fill="none" stroke="#fb0007" stroke-width="1.7"/>
<circle cx="440.00" cy="1772.80" r="5.55" fill="none" stroke="#fb0007" stroke-width="1.7"/>
<circle cx="468.10" cy="1597.80" r="5.55" fill="none" stroke="#fb0007" stroke-width="1.7"/>
<circle cx="496.20" cy="1573.20" r="5.55" fill="none" stroke="#fb0007" stroke-width="1.7"/>
<circle cx="524.30" cy="1767.50" r="5.55" fill="none" stroke="#fb0007" stroke-width="1.7"/>
<circle cx="552.40" cy="1751.90" r="5.55" fill="none" stroke="#fb0007" stroke-width="1.7"/>
<circle cx="580.50" cy="1618.40" r="5.55" fill="none" stroke="#fb0007" stroke-width="1.7"/>
<circle cx="608.60" cy="1734.20" r="5.55" fill="none" stroke="#fb0007" stroke-width="1.7"/>
<circle cx="636.70" cy="1660.10" r="5.55" fill="none" stroke="#fb0007" stroke-width="1.7"/>
<circle cx="664.80" cy="1745.00" r="5.55" fill="none" stroke="#fb0007" stroke-width="1.7"/>
<circle cx="692.90" cy="1569.00" r="5.55" fill="none" stroke="#fb0007" stroke-width="1.7"/>
<circle cx="721.00" cy="1702.30" r="5.55" fill="none" stroke="#fb0007" stroke-width="1.7"/>
<line x1="121.40" y1="1946.8" x2="166.30" y2="1946.8" stroke="#4b80c0" stroke-width="5.0" stroke-linecap="round"/>
<circle cx="144.75" cy="1947.20" r="6.10" fill="#4b80c0"/>
<text x="171.70" y="1954.20" font-size="21" text-anchor="start" font-weight="normal" fill="#000" >Real measured data</text>
<line x1="420.50" y1="1946.8" x2="466.40" y2="1946.8" stroke="#fb0007" stroke-width="5.0" stroke-linecap="round"/>
<circle cx="444.35" cy="1947.20" r="5.55" fill="none" stroke="#fb0007" stroke-width="1.7"/>
<text x="470.80" y="1954.20" font-size="21" text-anchor="start" font-weight="normal" fill="#000" >ANN-ICA predicted data</text>
<line x1="1525.00" y1="1404.40" x2="1525.00" y2="2020.90" stroke="#666" stroke-width="2.0"/>
<line x1="798.20" y1="1405.40" x2="1526.00" y2="1405.40" stroke="#000" stroke-width="2.0"/>
<line x1="799.20" y1="1404.40" x2="799.20" y2="2020.90" stroke="#000" stroke-width="2.0"/>
<line x1="798.20" y1="2019.90" x2="1526.00" y2="2019.90" stroke="#000" stroke-width="2.0"/>
<text x="1161.90" y="1447.10" font-size="24" text-anchor="middle" font-weight="normal" fill="#000" word-spacing="8.90">ANN-ICA (Testing)</text>
<line x1="909.0" y1="1481.90" x2="1498.9" y2="1481.90" stroke="#d4d4d4" stroke-width="1.4"/>
<line x1="909.0" y1="1524.00" x2="1498.9" y2="1524.00" stroke="#d4d4d4" stroke-width="1.4"/>
<line x1="909.0" y1="1567.70" x2="1498.9" y2="1567.70" stroke="#d4d4d4" stroke-width="1.4"/>
<line x1="909.0" y1="1611.90" x2="1498.9" y2="1611.90" stroke="#d4d4d4" stroke-width="1.4"/>
<line x1="909.0" y1="1655.20" x2="1498.9" y2="1655.20" stroke="#d4d4d4" stroke-width="1.4"/>
<line x1="909.0" y1="1699.30" x2="1498.9" y2="1699.30" stroke="#d4d4d4" stroke-width="1.4"/>
<line x1="909.0" y1="1741.00" x2="1498.9" y2="1741.00" stroke="#d4d4d4" stroke-width="1.4"/>
<line x1="909.0" y1="1784.90" x2="1498.9" y2="1784.90" stroke="#d4d4d4" stroke-width="1.4"/>
<line x1="909.0" y1="1829.10" x2="1498.9" y2="1829.10" stroke="#d4d4d4" stroke-width="1.4"/>
<line x1="909.0" y1="1872.20" x2="1498.9" y2="1872.20" stroke="#d4d4d4" stroke-width="1.4"/>
<text x="892.00" y="1489.00" font-size="20" text-anchor="end" font-weight="normal" fill="#000" >0.7</text>
<text x="892.00" y="1532.40" font-size="20" text-anchor="end" font-weight="normal" fill="#000" >0.6</text>
<text x="892.00" y="1575.80" font-size="20" text-anchor="end" font-weight="normal" fill="#000" >0.5</text>
<text x="892.00" y="1619.20" font-size="20" text-anchor="end" font-weight="normal" fill="#000" >0.4</text>
<text x="892.00" y="1662.60" font-size="20" text-anchor="end" font-weight="normal" fill="#000" >0.3</text>
<text x="892.00" y="1706.00" font-size="20" text-anchor="end" font-weight="normal" fill="#000" >0.2</text>
<text x="892.00" y="1749.40" font-size="20" text-anchor="end" font-weight="normal" fill="#000" >0.1</text>
<text x="892.00" y="1792.80" font-size="20" text-anchor="end" font-weight="normal" fill="#000" >0</text>
<text x="892.00" y="1836.20" font-size="20" text-anchor="end" font-weight="normal" fill="#000" >-0.1</text>
<text x="892.00" y="1879.60" font-size="20" text-anchor="end" font-weight="normal" fill="#000" >-0.2</text>
<text x="968.90" y="1904.50" font-size="20" text-anchor="middle" font-weight="normal" fill="#000" >1</text>
<text x="1086.30" y="1904.50" font-size="20" text-anchor="middle" font-weight="normal" fill="#000" >2</text>
<text x="1205.30" y="1904.50" font-size="20" text-anchor="middle" font-weight="normal" fill="#000" >3</text>
<text x="1322.80" y="1904.50" font-size="20" text-anchor="middle" font-weight="normal" fill="#000" >4</text>
<text x="1441.70" y="1904.50" font-size="20" text-anchor="middle" font-weight="normal" fill="#000" >5</text>
<text x="1203.95" y="1934.50" font-size="21" text-anchor="middle" font-weight="normal" fill="#000" >Damae case</text>
<text transform="translate(847.00 1680.70) rotate(-90)" font-size="21" text-anchor="middle" word-spacing="3.96">Normalized output</text>
<polyline points="968.60,1767.80 1086.00,1837.60 1205.00,1802.20 1322.50,1523.70 1441.40,1663.90" fill="none" stroke="#4b80c0" stroke-width="5.4" stroke-linejoin="round" stroke-linecap="round"/>
<circle cx="968.60" cy="1767.80" r="6.10" fill="#4b80c0"/>
<circle cx="1086.00" cy="1837.60" r="6.10" fill="#4b80c0"/>
<circle cx="1205.00" cy="1802.20" r="6.10" fill="#4b80c0"/>
<circle cx="1322.50" cy="1523.70" r="6.10" fill="#4b80c0"/>
<circle cx="1441.40" cy="1663.90" r="6.10" fill="#4b80c0"/>
<polyline points="968.60,1770.70 1086.00,1843.50 1205.00,1795.80 1322.50,1513.90 1441.40,1644.20" fill="none" stroke="#fb0007" stroke-width="4.8" stroke-linejoin="round" stroke-linecap="round"/>
<circle cx="968.60" cy="1770.70" r="5.55" fill="none" stroke="#fb0007" stroke-width="1.7"/>
<circle cx="1086.00" cy="1843.50" r="5.55" fill="none" stroke="#fb0007" stroke-width="1.7"/>
<circle cx="1205.00" cy="1795.80" r="5.55" fill="none" stroke="#fb0007" stroke-width="1.7"/>
<circle cx="1322.50" cy="1513.90" r="5.55" fill="none" stroke="#fb0007" stroke-width="1.7"/>
<circle cx="1441.40" cy="1644.20" r="5.55" fill="none" stroke="#fb0007" stroke-width="1.7"/>
<line x1="886.50" y1="1949.0" x2="931.30" y2="1949.0" stroke="#4b80c0" stroke-width="5.0" stroke-linecap="round"/>
<circle cx="909.80" cy="1949.40" r="6.10" fill="#4b80c0"/>
<text x="935.60" y="1956.80" font-size="21" text-anchor="start" font-weight="normal" fill="#000" >Real measured data</text>
<line x1="1183.30" y1="1949.0" x2="1229.10" y2="1949.0" stroke="#fb0007" stroke-width="5.0" stroke-linecap="round"/>
<circle cx="1207.10" cy="1949.40" r="5.55" fill="none" stroke="#fb0007" stroke-width="1.7"/>
<text x="1235.70" y="1956.80" font-size="21" text-anchor="start" font-weight="normal" fill="#000" >ANN-ICA predicted data</text>
<text x="9.7" y="33.8" font-family='"Liberation Sans", sans-serif' font-size="27" font-weight="bold" stroke="#000" stroke-width="0.2">A</text>
<text x="9.4" y="712.9" font-family='"Liberation Sans", sans-serif' font-size="27" font-weight="bold" stroke="#000" stroke-width="0.2">B</text>
<text x="9.4" y="1400.8" font-family='"Liberation Sans", sans-serif' font-size="27" font-weight="bold" stroke="#000" stroke-width="0.2">C</text>
<text x="778.40" y="681.90" font-size="26" text-anchor="middle" font-weight="normal" fill="#000" word-spacing="2.69">ANN results</text>
<text x="779.40" y="1361.90" font-size="26" text-anchor="middle" font-weight="normal" fill="#000" word-spacing="3.51">ANN-GA results</text>
<text x="774.50" y="2058.40" font-size="26" text-anchor="middle" font-weight="normal" fill="#000" word-spacing="3.78">ANN-ICA results</text>
</svg>
</body>
</html>
